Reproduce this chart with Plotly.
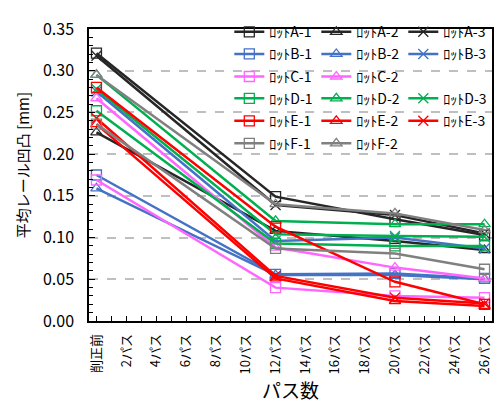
import plotly.graph_objects as go

# ---- data ----
passes = [0, 12, 20, 26]
tick_vals = [0, 2, 4, 6, 8, 10, 12, 14, 16, 18, 20, 22, 24, 26]
tick_text = ["削正前", "2パス", "4パス", "6パス", "8パス", "10パス", "12パス",
             "14パス", "16パス", "18パス", "20パス", "22パス", "24パス", "26パス"]
y_ticks = [0.00, 0.05, 0.10, 0.15, 0.20, 0.25, 0.30, 0.35]

lot_A1 = [0.321, 0.149, 0.122, 0.103]
lot_A2 = [0.226, 0.108, 0.096, 0.085]
lot_A3 = [0.318, 0.139, 0.127, 0.105]
lot_B1 = [0.175, 0.056, 0.057, 0.051]
lot_B2 = [0.159, 0.055, 0.055, 0.050]
lot_B3 = [0.275, 0.096, 0.100, 0.087]
lot_C1 = [0.169, 0.040, 0.030, 0.028]
lot_C2 = [0.267, 0.088, 0.064, 0.051]
lot_D1 = [0.252, 0.093, 0.090, 0.090]
lot_D2 = [0.295, 0.120, 0.116, 0.116]
lot_D3 = [0.278, 0.104, 0.102, 0.101]
lot_E1 = [0.280, 0.113, 0.047, 0.020]
lot_E2 = [0.236, 0.051, 0.024, 0.018]
lot_E3 = [0.243, 0.054, 0.028, 0.021]
lot_F1 = [0.236, 0.087, 0.081, 0.062]
lot_F2 = [0.295, 0.140, 0.129, 0.109]

series = [
    ("ﾛｯﾄA-1", lot_A1, "#262626", "square-open", "legend"),
    ("ﾛｯﾄA-2", lot_A2, "#262626", "triangle-up-open", "legend"),
    ("ﾛｯﾄA-3", lot_A3, "#262626", "x-thin-open", "legend"),
    ("ﾛｯﾄB-1", lot_B1, "#4472C4", "square-open", "legend2"),
    ("ﾛｯﾄB-2", lot_B2, "#4472C4", "triangle-up-open", "legend2"),
    ("ﾛｯﾄB-3", lot_B3, "#4472C4", "x-thin-open", "legend2"),
    ("ﾛｯﾄC-1", lot_C1, "#FF66FF", "square-open", "legend3"),
    ("ﾛｯﾄC-2", lot_C2, "#FF66FF", "triangle-up-open", "legend3"),
    ("ﾛｯﾄD-1", lot_D1, "#00B050", "square-open", "legend4"),
    ("ﾛｯﾄD-2", lot_D2, "#00B050", "triangle-up-open", "legend4"),
    ("ﾛｯﾄD-3", lot_D3, "#00B050", "x-thin-open", "legend4"),
    ("ﾛｯﾄE-1", lot_E1, "#FF0000", "square-open", "legend5"),
    ("ﾛｯﾄE-2", lot_E2, "#FF0000", "triangle-up-open", "legend5"),
    ("ﾛｯﾄE-3", lot_E3, "#FF0000", "x-thin-open", "legend5"),
    ("ﾛｯﾄF-1", lot_F1, "#808080", "square-open", "legend6"),
    ("ﾛｯﾄF-2", lot_F2, "#808080", "triangle-up-open", "legend6"),
]

FONT = "Noto Sans CJK JP"

fig = go.Figure()
for name, vals, color, sym, leg in series:
    fig.add_trace(go.Scatter(
        x=passes, y=vals, name=name, mode="lines+markers",
        line=dict(color=color, width=2.5),
        marker=dict(symbol=sym, size=10, color=color,
                    line=dict(color=color, width=1.3)),
        legend=leg,
    ))

# page has an 8px body margin, so the figure is sized to fit inside it
OFF = 8
W, H = 502 - OFF, 406 - OFF
L, R, T, B = 89 - OFF, 8, 18 - OFF, 85
pw, ph = W - L - R, H - T - B

def px_x(x):  # x in page (reference) pixels
    return (x - OFF - L) / pw

def px_y(y):  # y in page (reference) pixels
    return (H - B - (y - OFF)) / ph

row_centers = [29.3, 52.3, 75.7, 98.3, 121.7, 145.0]
legend_common = dict(
    orientation="h", entrywidth=42, entrywidthmode="pixels",
    bgcolor="rgba(0,0,0,0)", borderwidth=0,
    font=dict(family=FONT, size=14, color="black"),
    xanchor="left", yanchor="middle", x=px_x(230), itemclick=False,
)
legend_layout = {}
for i, yc in enumerate(row_centers):
    key = "legend" if i == 0 else f"legend{i+1}"
    legend_layout[key] = dict(legend_common, y=px_y(yc - 8))

fig.update_layout(
    width=W, height=H,
    margin=dict(l=L, r=R, t=T, b=B, pad=0),
    paper_bgcolor="white", plot_bgcolor="white",
    font=dict(family=FONT, color="black"),
    showlegend=True,
    **legend_layout,
)

fig.update_xaxes(
    range=[-0.5, 26.5], tickmode="array", tickvals=tick_vals, ticktext=tick_text,
    tickangle=-90, tickfont=dict(family=FONT, size=13, color="black"),
    ticks="inside", ticklen=5, tickcolor="black", tickwidth=1,
    minor=dict(dtick=1, ticks="inside", ticklen=5, tickcolor="black", tickwidth=1),
    showline=True, linecolor="black", linewidth=1.5, mirror=True,
    showgrid=False, zeroline=False, ticklabelstandoff=6,
)
fig.update_yaxes(
    range=[0, 0.35], tickmode="array", tickvals=y_ticks,
    ticktext=[f"{v:.2f}" for v in y_ticks],
    tickfont=dict(family=FONT, size=16, color="black"),
    ticks="inside", ticklen=6, tickcolor="black", tickwidth=1,
    minor=dict(dtick=0.01, ticks="inside", ticklen=4, tickcolor="black", tickwidth=1),
    showline=True, linecolor="black", linewidth=1.5, mirror=True,
    showgrid=True, gridcolor="#BFBFBF", griddash="dash", gridwidth=1.5,
    zeroline=False, ticklabelstandoff=10,
)

fig.add_annotation(
    text="平均レール凹凸 [mm]", textangle=-90, showarrow=False,
    xref="paper", yref="paper", x=px_x(23), y=px_y(159),
    xanchor="center", yanchor="middle",
    font=dict(family=FONT, size=15, color="black"),
)
fig.add_annotation(
    text="パス数", showarrow=False,
    xref="paper", yref="paper", x=px_x(292), y=px_y(392),
    xanchor="center", yanchor="middle",
    font=dict(family=FONT, size=19, color="black"),
)

fig.write_html("out.html")
